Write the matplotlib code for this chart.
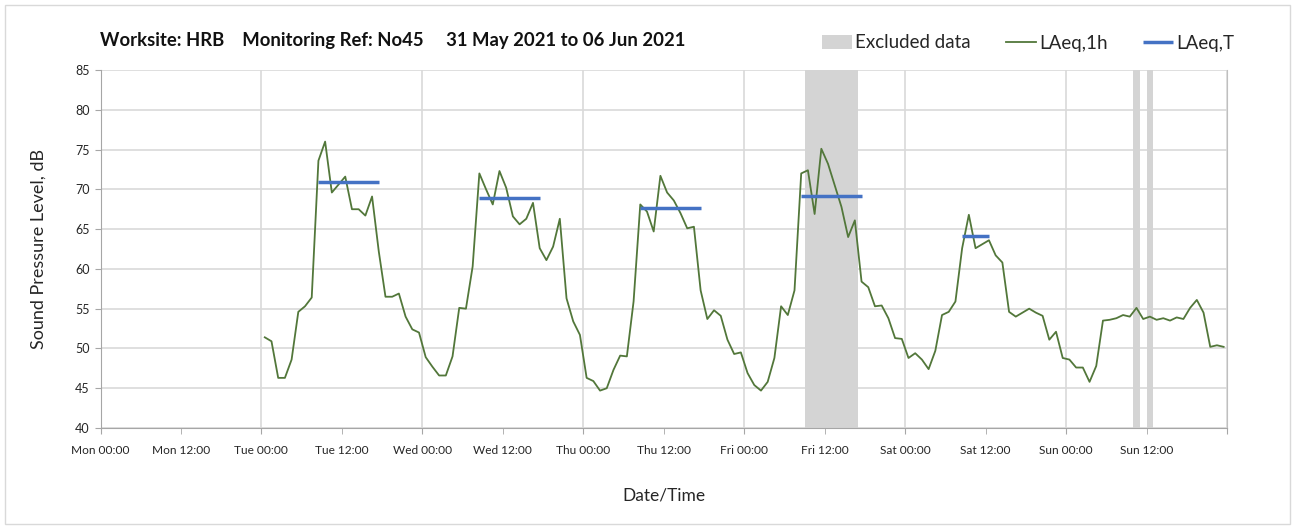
import pandas as pd
import numpy as np
import matplotlib.pyplot as plt
import matplotlib.dates as mdates
import matplotlib.ticker as ticker
from matplotlib.patches import Rectangle

plt.rcParams['font.family'] = ['Lato', 'DejaVu Sans']

# hourly LAeq values, Tue 01 Jun 00:30 .. Sun 06 Jun 23:30 (plotted at mid-hour)
tue = [51.4, 50.9, 46.3, 46.3, 48.6, 54.6, 55.3, 56.4, 73.6, 76.0, 69.6, 70.6,
       71.6, 67.5, 67.5, 66.7, 69.1, 62.2, 56.5, 56.5, 56.9, 54.0, 52.4, 52.0]
wed = [48.9, 47.7, 46.6, 46.6, 49.0, 55.1, 55.0, 60.3, 72.0, 70.0, 68.1, 72.3,
       70.2, 66.6, 65.6, 66.3, 68.3, 62.6, 61.1, 62.8, 66.3, 56.3, 53.4, 51.7]
thu = [46.3, 45.9, 44.7, 45.0, 47.3, 49.1, 49.0, 55.9, 68.1, 67.2, 64.7, 71.7,
       69.6, 68.6, 67.0, 65.1, 65.3, 57.3, 53.7, 54.8, 54.1, 51.1, 49.3, 49.5]
fri = [46.9, 45.4, 44.7, 45.8, 48.8, 55.3, 54.2, 57.3, 72.0, 72.4, 66.9, 75.1,
       73.2, 70.5, 67.8, 64.0, 66.1, 58.4, 57.7, 55.3, 55.4, 53.8, 51.3, 51.2]
sat = [48.8, 49.4, 48.6, 47.4, 49.7, 54.2, 54.6, 55.9, 62.6, 66.8, 62.6, 63.1,
       63.6, 61.7, 60.8, 54.6, 54.0, 54.5, 55.0, 54.5, 54.1, 51.1, 52.1, 48.8]
sun = [48.6, 47.6, 47.6, 45.8, 47.8, 53.5, 53.6, 53.8, 54.2, 54.0, 55.1, 53.7,
       54.0, 53.6, 53.8, 53.5, 53.9, 53.7, 55.1, 56.1, 54.5, 50.2, 50.4, 50.2]
laeq_1h = tue + wed + thu + fri + sat + sun
times = pd.date_range("2021-06-01 00:30", periods=len(laeq_1h), freq="h")

# working-hours LAeq,T per day
lt_start = ["2021-06-01 08:30", "2021-06-02 08:30", "2021-06-03 08:30",
            "2021-06-04 08:30", "2021-06-05 08:30"]
lt_end = ["2021-06-01 17:30", "2021-06-02 17:30", "2021-06-03 17:30",
          "2021-06-04 17:30", "2021-06-05 12:30"]
lt_value = [70.9, 68.9, 67.6, 69.1, 64.1]

# excluded periods
excl_start = ["2021-06-04 09:00", "2021-06-06 10:00", "2021-06-06 12:00"]
excl_end = ["2021-06-04 17:00", "2021-06-06 11:00", "2021-06-06 13:00"]

x_min = pd.Timestamp("2021-05-31 00:00")
x_max = pd.Timestamp("2021-06-07 00:00")

fig = plt.figure(figsize=(12.95, 5.29), dpi=100)
ax = fig.add_axes([100.5 / 1295, 1 - 428 / 529, (1227 - 100.5) / 1295, 358 / 529])

# outer frame around the whole chart
fig.patches.append(Rectangle((5 / 1295, 5 / 529), 1285 / 1295, 519 / 529,
                             transform=fig.transFigure, fill=False,
                             edgecolor="#d9d9d9", linewidth=1))

for i, (s, e) in enumerate(zip(excl_start, excl_end)):
    ax.axvspan(pd.Timestamp(s), pd.Timestamp(e), color="#d4d4d4", lw=0,
               label="Excluded data" if i == 0 else None, zorder=1)

ax.plot(times, laeq_1h, color="#52773a", lw=1.3, label="LAeq,1h", zorder=3)

for i, (s, e, v) in enumerate(zip(lt_start, lt_end, lt_value)):
    ax.plot([pd.Timestamp(s), pd.Timestamp(e)], [v, v], color="#4472c4", lw=2.5,
            solid_capstyle="butt", label="LAeq,T" if i == 0 else None, zorder=4)

ax.set_xlim(x_min, x_max)
ax.set_ylim(40, 85)
ax.set_yticks(np.arange(40, 86, 5))

# no label at the far right end of the axis
end_num = mdates.date2num(x_max)
def fmt_time(x, pos=None):
    if x >= end_num - 1e-6:
        return ""
    return mdates.num2date(x).strftime("%a %H:%M")

ax.xaxis.set_major_locator(mdates.HourLocator(byhour=[0]))
ax.xaxis.set_minor_locator(mdates.HourLocator(byhour=[12]))
ax.xaxis.set_major_formatter(ticker.FuncFormatter(fmt_time))
ax.xaxis.set_minor_formatter(ticker.FuncFormatter(fmt_time))
ax.tick_params(axis="x", which="both", length=4, color="#a6a6a6",
               labelsize=8.6, pad=8, labelcolor="#262626")
ax.tick_params(axis="y", length=4, color="#a6a6a6", labelsize=9,
               labelcolor="#262626", pad=4)

ax.grid(axis="y", color="#d9d9d9", lw=1.2)
ax.grid(axis="x", which="major", color="#d9d9d9", lw=1.2)
ax.set_axisbelow(True)
ax.spines["top"].set_visible(False)
ax.spines["right"].set_color("#bfbfbf")
ax.spines["left"].set_color("#a6a6a6")
ax.spines["bottom"].set_color("#a6a6a6")

ax.set_xlabel("Date/Time", fontsize=12.5, color="#262626")
ax.set_ylabel("Sound Pressure Level, dB", fontsize=13, color="#262626")
ax.xaxis.set_label_coords(0.5, -0.165)
ax.yaxis.set_label_coords(-0.048, 0.5)

fig.text(100 / 1295, 1 - 40 / 529,
         "Worksite: HRB    Monitoring Ref: No45     31 May 2021 to 06 Jun 2021",
         fontsize=13.3, fontweight="bold", va="center", ha="left", color="#111111")

fig.legend(loc="center right", bbox_to_anchor=(1251 / 1295, 1 - 43 / 529),
           ncol=3, frameon=False, fontsize=13.5, handlelength=1.6,
           handletextpad=0.15, columnspacing=1.9, labelcolor="#262626")

fig.savefig("out.png", dpi=100)
